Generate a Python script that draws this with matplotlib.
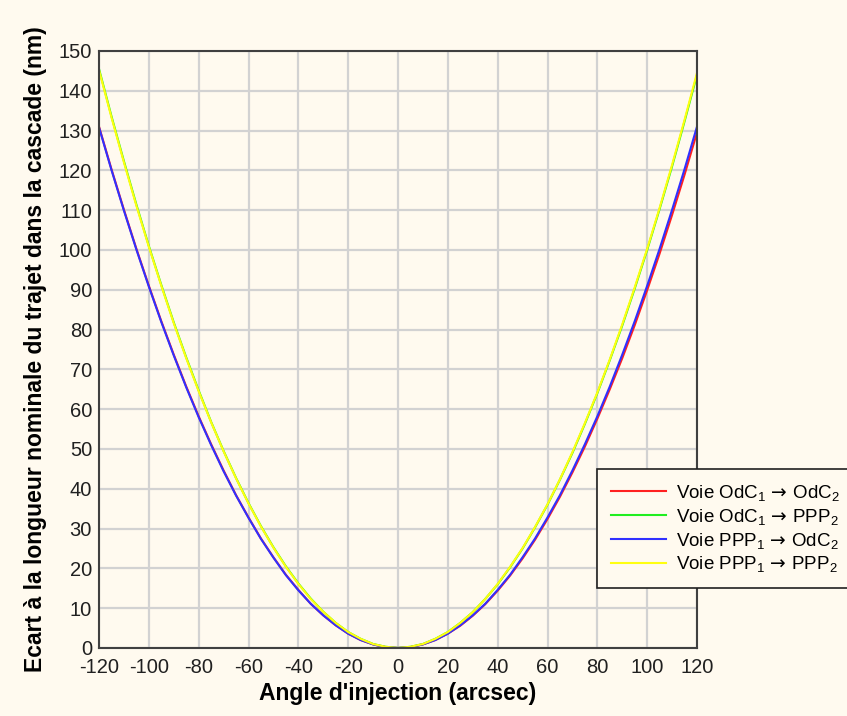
import matplotlib.pyplot as plt

# data (injection angle in arcsec, path deviation in nm)
angles = [-120, -115, -110, -105, -100, -95, -90, -85, -80, -75, -70, -65, -60,
          -55, -50, -45, -40, -35, -30, -25, -20, -15, -10, -5, 0,
          5, 10, 15, 20, 25, 30, 35, 40, 45, 50, 55, 60, 65, 70, 75, 80,
          85, 90, 95, 100, 105, 110, 115, 120]

odc_odc = [131.0, 120.3, 110.1, 100.3, 91.0, 82.1, 73.7, 65.7, 58.2, 51.2, 44.6, 38.4, 32.8,
           27.5, 22.8, 18.4, 14.6, 11.1, 8.2, 5.7, 3.6, 2.0, 0.9, 0.2, 0.0,
           0.2, 0.9, 2.0, 3.6, 5.6, 8.1, 11.0, 14.4, 18.2, 22.5, 27.2, 32.4, 38.0, 44.1, 50.6, 57.6,
           65.0, 72.8, 81.1, 89.9, 99.1, 108.8, 118.9, 129.5]

odc_ppp = [145.5, 133.6, 122.3, 111.4, 101.0, 91.2, 81.8, 73.0, 64.7, 56.8, 49.5, 42.7, 36.4,
           30.6, 25.3, 20.5, 16.2, 12.4, 9.1, 6.3, 4.0, 2.3, 1.0, 0.3, 0.0,
           0.3, 1.0, 2.3, 4.0, 6.3, 9.0, 12.3, 16.0, 20.3, 25.0, 30.3, 36.0, 42.3, 49.0, 56.3, 64.0,
           72.3, 81.0, 90.3, 100.0, 110.3, 121.0, 132.3, 144.0]

ppp_odc = [130.8, 120.1, 109.9, 100.1, 90.8, 81.9, 73.5, 65.5, 58.0, 51.0, 44.4, 38.3, 32.7,
           27.4, 22.7, 18.3, 14.5, 11.1, 8.2, 5.7, 3.6, 2.0, 0.9, 0.2, 0.0,
           0.2, 0.9, 2.0, 3.6, 5.7, 8.2, 11.1, 14.6, 18.4, 22.8, 27.5, 32.8, 38.4, 44.6, 51.2, 58.2,
           65.7, 73.7, 82.1, 91.0, 100.3, 110.1, 120.3, 131.0]

ppp_ppp = [145.2, 133.3, 122.0, 111.1, 100.8, 91.0, 81.6, 72.8, 64.5, 56.7, 49.4, 42.6, 36.3,
           30.5, 25.2, 20.4, 16.1, 12.3, 9.1, 6.3, 4.0, 2.3, 1.0, 0.3, 0.0,
           0.3, 1.0, 2.3, 4.0, 6.3, 9.0, 12.3, 16.1, 20.4, 25.1, 30.4, 36.1, 42.4, 49.2, 56.5, 64.2,
           72.5, 81.3, 90.6, 100.3, 110.6, 121.4, 132.7, 144.5]

series_labels = [r'Voie OdC$_1\,\mathsf{\rightarrow}\,$OdC$_2$',
                 r'Voie OdC$_1\,\mathsf{\rightarrow}\,$PPP$_2$',
                 r'Voie PPP$_1\,\mathsf{\rightarrow}\,$OdC$_2$',
                 r'Voie PPP$_1\,\mathsf{\rightarrow}\,$PPP$_2$']
series_colors = ['#ff2020', '#20ee20', '#3030ff', '#ffff10']

BG = '#fffaef'

plt.rcParams['font.family'] = ['Liberation Sans', 'DejaVu Sans']
plt.rcParams['mathtext.fontset'] = 'custom'
plt.rcParams['mathtext.rm'] = 'Liberation Sans'
plt.rcParams['mathtext.it'] = 'Liberation Sans'
plt.rcParams['mathtext.sf'] = 'DejaVu Sans'
plt.rcParams['axes.unicode_minus'] = False

fig = plt.figure(figsize=(8.47, 7.16), dpi=100, facecolor=BG)
ax = fig.add_axes([0.1169, 0.095, 0.706, 0.8338], facecolor=BG)

all_series = [odc_odc, odc_ppp, ppp_odc, ppp_ppp]
lines = []
for values, label, color in zip(all_series, series_labels, series_colors):
    line, = ax.plot(angles, values, color=color, lw=1.5, label=label, zorder=3)
    lines.append(line)

ax.set_xlim(-120, 120)
ax.set_ylim(0, 150)
ax.set_xticks(range(-120, 121, 20))
ax.set_yticks(range(0, 151, 10))
ax.grid(True, color='#d2d2d2', lw=1.6, zorder=0)
ax.tick_params(length=0, labelsize=14.5, colors='#202020')
ax.tick_params(axis='x', pad=7)
ax.tick_params(axis='y', pad=5)
for spine in ax.spines.values():
    spine.set_color('#404040')
    spine.set_linewidth(1.5)
    spine.set_zorder(4)

ax.set_xlabel("Angle d'injection (arcsec)", fontsize=16.5, fontweight='bold', labelpad=4)
ax.set_ylabel('Ecart \u00e0 la longueur nominale du trajet dans la cascade (nm)',
              fontsize=16.5, fontweight='bold', labelpad=8)

leg = fig.legend(handles=lines, loc='upper left', bbox_to_anchor=(0.705, 0.345),
                 fontsize=13.5, frameon=True, fancybox=False, handlelength=2.9,
                 handletextpad=0.55, labelspacing=0.2, borderpad=0.75, borderaxespad=0,
                 facecolor=BG, edgecolor='#202020', framealpha=1)
leg.get_frame().set_linewidth(1.2)

fig.savefig('out.png', dpi=100, facecolor=BG)
